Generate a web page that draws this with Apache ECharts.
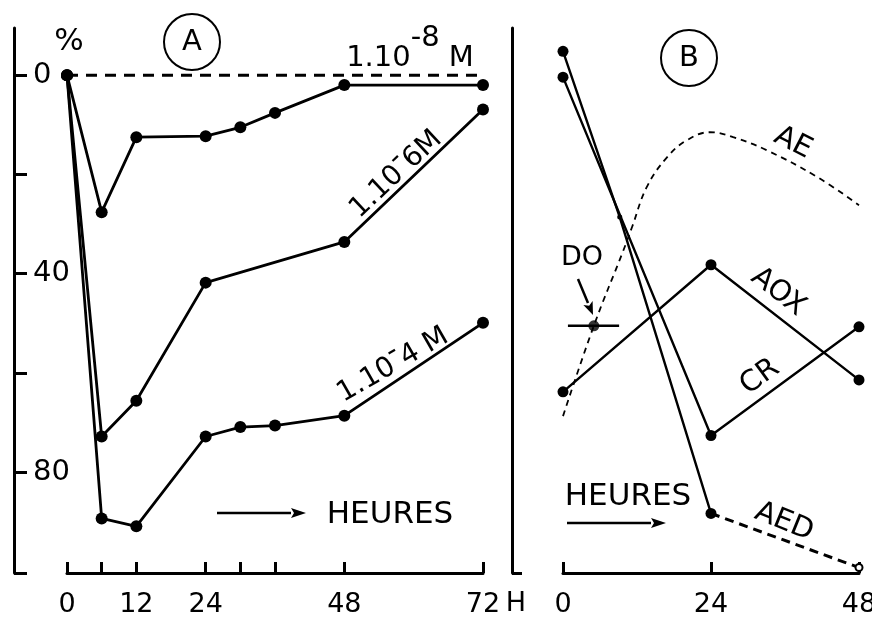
<!DOCTYPE html>
<html>
<head>
<meta charset="utf-8">
<script src="https://cdn.jsdelivr.net/npm/echarts@6/dist/echarts.min.js"></script>
<style>html,body{margin:0;padding:0;background:#fff}#c{width:872px;height:617px}</style>
</head>
<body>
<div id="c"></div>
<script>
// ---------- Panel A data (hours, % values) ----------
const hoursA = [0, 6, 12, 24, 30, 36, 48, 72];
const conc8 = [0, 27.6, 12.5, 12.3, 10.5, 7.6, 2.0, 2.0];       // 1.10-8 M
const hoursM6 = [0, 6, 12, 24, 48, 72];
const conc6 = [0, 72.8, 65.6, 41.8, 33.6, 6.9];                  // 1.10-6 M
const conc4 = [0, 89.3, 90.9, 72.8, 70.9, 70.6, 68.6, 49.9];     // 1.10-4 M
const controlHours = [0, 72];
const controlValues = [0, 0];
const tickHoursA = [0, 6, 12, 24, 30, 36, 48, 72];
const labelHoursA = [0, 12, 24, 48, 72];
const tickValuesY = [0, 20, 40, 60, 80];
const labelValuesY = [0, 40, 80];

// ---------- Panel B data ----------
const hoursB = [0, 24, 48];
const aox = [63.8, 38.2, 61.4];
const cr = [0.4, 72.6, 50.7];
const aedHours = [0, 9.2, 24];
const aed = [-4.8, 28.6, 88.3];
const aedDashHours = [24, 48];
const aedDash = [88.3, 99.2];
const aeHours = [0, 5, 9.7, 11.2, 13.6, 16.9, 20.1, 23.8, 27.6, 33, 41.2, 48];
const ae = [68.7, 50.5, 35.6, 30.6, 22.5, 16.5, 13.1, 11.5, 12.5, 15.1, 20.5, 26.2];
const doHour = [5.0];
const doValue = [50.5];
const doRange = [0.8, 9.1];
const tickHoursB = [0, 24, 48];

const F = "DejaVu Sans";
const zip = (xs, ys) => xs.map((x, i) => [x, ys[i]]);
const Y_MIN = -9.5, Y_MAX = 100.3;

function arrow(x1, y1, x2, y2, head, half, w) {
  const dx = x2 - x1, dy = y2 - y1, L = Math.hypot(dx, dy);
  const ux = dx / L, uy = dy / L, px = -uy, py = ux;
  const bx = x2 - ux * head, by = y2 - uy * head;
  return [
    {type: 'line', shape: {x1: x1, y1: y1, x2: bx, y2: by}, style: {stroke: '#000', lineWidth: w}},
    {type: 'polygon', shape: {points: [[x2, y2], [bx + px * half, by + py * half], [bx + ux * 3, by + uy * 3], [bx - px * half, by - py * half]]}, style: {fill: '#000'}}
  ];
}
function txt(x, y, text, size, rot, extra) {
  return Object.assign({type: 'text', x: x, y: y, rotation: (rot || 0) * Math.PI / 180,
    style: Object.assign({text: text, fontSize: size, fontFamily: F, fill: '#000', align: 'center', verticalAlign: 'middle'}, extra || {})});
}

const chart = echarts.init(document.getElementById('c'), null, {renderer: 'canvas'});

const axisLabelStyle = {color: '#000', fontFamily: F};
const blackLine = {color: '#000', width: 3};

const option = {
  animation: false,
  backgroundColor: '#fff',
  grid: [
    {left: 67, top: 28, width: 416, height: 545, outerBoundsMode: 'none', containLabel: false},
    {left: 563, top: 28, width: 296, height: 545, outerBoundsMode: 'none', containLabel: false}
  ],
  xAxis: [
    {gridIndex: 0, type: 'value', min: 0, max: 72, position: 'bottom',
      axisLine: {show: true, onZero: false, lineStyle: blackLine},
      axisTick: {show: true, inside: true, length: 11, lineStyle: {color: '#000', width: 3}, customValues: tickHoursA},
      axisLabel: Object.assign({customValues: labelHoursA, fontSize: 27, margin: 18}, axisLabelStyle),
      splitLine: {show: false}
    },
    {gridIndex: 1, type: 'value', min: 0, max: 48, position: 'bottom',
      axisLine: {show: true, onZero: false, lineStyle: blackLine},
      axisTick: {show: true, inside: true, length: 11, lineStyle: {color: '#000', width: 3}, customValues: tickHoursB},
      axisLabel: Object.assign({customValues: tickHoursB, fontSize: 27, margin: 18}, axisLabelStyle),
      splitLine: {show: false}
    }
  ],
  yAxis: [
    {gridIndex: 0, type: 'value', min: Y_MIN, max: Y_MAX, inverse: true, offset: 53, position: 'left',
      axisLine: {show: true, onZero: false, lineStyle: blackLine},
      axisTick: {show: true, inside: true, length: 13, lineStyle: {color: '#000', width: 3}, customValues: tickValuesY.concat([Y_MAX])},
      axisLabel: Object.assign({inside: true, customValues: labelValuesY, fontSize: 29, margin: 19}, axisLabelStyle),
      splitLine: {show: false}
    },
    {gridIndex: 1, type: 'value', min: Y_MIN, max: Y_MAX, inverse: true, offset: 51, position: 'left',
      axisLine: {show: true, onZero: false, lineStyle: blackLine},
      axisTick: {show: true, inside: true, length: 10, lineStyle: {color: '#000', width: 3}, customValues: [Y_MAX]},
      axisLabel: {show: false},
      splitLine: {show: false}
    }
  ],
  series: [
    {type: 'line', xAxisIndex: 0, yAxisIndex: 0, data: zip(controlHours, controlValues), showSymbol: false,
      lineStyle: {color: '#000', width: 3, type: [11, 8]}},
    {type: 'line', xAxisIndex: 0, yAxisIndex: 0, data: zip(hoursA, conc8), symbol: 'circle', symbolSize: 12,
      itemStyle: {color: '#000'}, lineStyle: {color: '#000', width: 2.8}},
    {type: 'line', xAxisIndex: 0, yAxisIndex: 0, data: zip(hoursM6, conc6), symbol: 'circle', symbolSize: 12,
      itemStyle: {color: '#000'}, lineStyle: {color: '#000', width: 2.8}},
    {type: 'line', xAxisIndex: 0, yAxisIndex: 0, data: zip(hoursA, conc4), symbol: 'circle', symbolSize: 12,
      itemStyle: {color: '#000'}, lineStyle: {color: '#000', width: 2.8}},

    {type: 'line', xAxisIndex: 1, yAxisIndex: 1, data: zip(hoursB, aox), symbol: 'circle', symbolSize: 11,
      itemStyle: {color: '#000'}, lineStyle: {color: '#000', width: 2.4}},
    {type: 'line', xAxisIndex: 1, yAxisIndex: 1, data: zip(hoursB, cr), symbol: 'circle', symbolSize: 11,
      itemStyle: {color: '#000'}, lineStyle: {color: '#000', width: 2.4}},
    {type: 'line', xAxisIndex: 1, yAxisIndex: 1,
      data: zip(aedHours, aed).map((p, i) => i === 1 ? {value: p, symbolSize: 5} : p),
      symbol: 'circle', symbolSize: 11, itemStyle: {color: '#000'}, lineStyle: {color: '#000', width: 2.4}},
    {type: 'line', xAxisIndex: 1, yAxisIndex: 1,
      data: zip(aedDashHours, aedDash).map((p, i) => i === 0 ? {value: p, symbol: 'none'} : p),
      symbol: 'emptyCircle', symbolSize: 7, itemStyle: {color: '#000', borderWidth: 2, borderColor: '#000'},
      lineStyle: {color: '#000', width: 3, type: [9, 6]}},
    {type: 'line', xAxisIndex: 1, yAxisIndex: 1, data: zip(aeHours, ae), smooth: 0.4, showSymbol: false,
      lineStyle: {color: '#000', width: 1.8, type: [6, 5]}},
    {type: 'line', xAxisIndex: 1, yAxisIndex: 1, data: zip(doRange, [doValue[0], doValue[0]]), showSymbol: false,
      lineStyle: {color: '#000', width: 2.4}},
    {type: 'scatter', xAxisIndex: 1, yAxisIndex: 1, data: zip(doHour, doValue), symbol: 'circle', symbolSize: 11,
      itemStyle: {color: '#000'}}
  ],
  graphic: [
    {type: 'circle', shape: {cx: 192, cy: 42, r: 28}, style: {fill: 'none', stroke: '#000', lineWidth: 2}},
    txt(192, 42, 'A', 29),
    {type: 'circle', shape: {cx: 689, cy: 58, r: 28}, style: {fill: 'none', stroke: '#000', lineWidth: 2}},
    txt(689, 58, 'B', 29),
    txt(69, 42, '%', 31),
    txt(516, 604, 'H', 27),
    txt(410, 48, '{n|1.10}{s|-8}{n| M}', 29, 0, {rich: {
      n: {fontSize: 29, fontFamily: F, lineHeight: 49, verticalAlign: 'bottom'},
      s: {fontSize: 29, fontFamily: F, lineHeight: 34, verticalAlign: 'top'}}}),
    txt(392, 170, '{n|1.10}{s|-}{n|6M}', 28, 43, {rich: {
      n: {fontSize: 28, fontFamily: F, lineHeight: 40, verticalAlign: 'bottom'},
      s: {fontSize: 28, fontFamily: F, lineHeight: 28, verticalAlign: 'top'}}}),
    txt(390, 360, '{n|1.10}{s|-}{n|4 M}', 28, 30, {rich: {
      n: {fontSize: 28, fontFamily: F, lineHeight: 40, verticalAlign: 'bottom'},
      s: {fontSize: 28, fontFamily: F, lineHeight: 28, verticalAlign: 'top'}}}),
    txt(390, 515, 'HEURES', 31),
    ...arrow(217, 513, 306, 513, 15, 5, 2.5),
    txt(628, 497, 'HEURES', 31),
    ...arrow(567, 523, 666, 523, 15, 5, 2.5),
    txt(582, 258, 'DO', 27),
    ...arrow(578, 279, 593, 315, 13, 5, 2.5),
    txt(793, 143, 'AE', 29, -27),
    txt(778, 292, 'AOX', 29, -38),
    txt(760, 377, 'CR', 29, 36),
    txt(784, 522, 'AED', 29, -22)
  ]
};
chart.setOption(option);
</script>
</body>
</html>
